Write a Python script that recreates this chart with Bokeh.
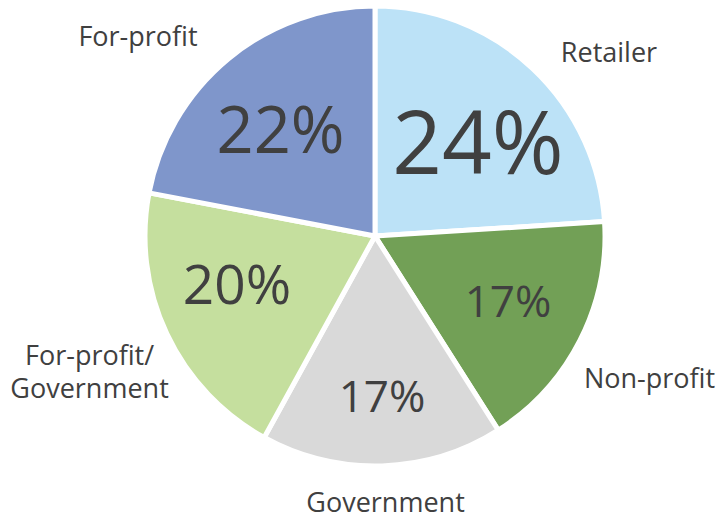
import numpy as np
from bokeh.plotting import figure
from bokeh.models import ColumnDataSource, Range1d
from bokeh.core.properties import value
from bokeh.embed import file_html
from bokeh.resources import INLINE

# ---- data ----
categories = ["Retailer", "Non-profit", "Government", "For-profit/\nGovernment", "For-profit"]
shares = [24, 17, 17, 20, 22]
pct_labels = ["24%", "17%", "17%", "20%", "22%"]
colors = ["#BCE2F7", "#72A056", "#D9D9D9", "#C5DF9E", "#7F96CB"]

# ---- layout / style ----
W, H = 721, 520
CX, CY, R = 374.5, 284.5, 230
FONT = "Open Sans"
TEXT_COLOR = "#404040"
pct_sizes = [87, 44, 44, 55, 65]
pct_r = 146
pct_dx = [3.1, 2.9, 2.4, -5.9, -1.4]
pct_dy = [10.0, -2.0, 13.4, -15.2, 4.6]
cat_size = 27
cat_r = 240
cat_dx = [69.7, 60.7, 3.0, -68.3, -84.0]
cat_dy = [-9.3, 32.7, 26.0, 16.8, -15.4]
line_gap = 33

frac = np.array(shares, dtype=float) / sum(shares)
cum = np.concatenate([[0.0], np.cumsum(frac)])
start = np.pi / 2 - 2 * np.pi * cum[1:]
end = np.pi / 2 - 2 * np.pi * cum[:-1]
mid = (start + end) / 2

wsrc = ColumnDataSource(dict(start=start, end=end, color=colors))

psrc = ColumnDataSource(dict(
    x=CX + pct_r * np.cos(mid), y=CY + pct_r * np.sin(mid),
    text=pct_labels, size=[f"{s}px" for s in pct_sizes], dx=pct_dx, dy=pct_dy,
))

# category labels, split into lines
cx, cy, ct, cdx, cdy = [], [], [], [], []
for i, cat in enumerate(categories):
    for j, line in enumerate(cat.split("\n")):
        cx.append(CX + cat_r * np.cos(mid[i]))
        cy.append(CY + cat_r * np.sin(mid[i]))
        ct.append(line)
        cdx.append(cat_dx[i])
        cdy.append(cat_dy[i] + j * line_gap)
csrc = ColumnDataSource(dict(x=cx, y=cy, text=ct, dx=cdx, dy=cdy))

p = figure(width=W, height=H, output_backend="svg", toolbar_location=None,
           x_range=Range1d(0, W), y_range=Range1d(0, H),
           min_border=0, outline_line_color=None)
p.axis.visible = False
p.grid.visible = False
p.background_fill_color = "white"
p.border_fill_color = "white"

p.wedge(x=CX, y=CY, radius=R, start_angle="start", end_angle="end",
        direction="anticlock", fill_color="color", line_color="white",
        line_width=5, source=wsrc)

p.text(x="x", y="y", text="text", x_offset="dx", y_offset="dy",
       text_font=value(FONT), text_font_size="size", text_color=TEXT_COLOR,
       text_align="center", text_baseline="alphabetic", source=psrc)

p.text(x="x", y="y", text="text", x_offset="dx", y_offset="dy",
       text_font=value(FONT), text_font_size=f"{cat_size}px", text_color=TEXT_COLOR,
       text_align="center", text_baseline="alphabetic", source=csrc)

open("out.html", "w").write(file_html(p, INLINE))
